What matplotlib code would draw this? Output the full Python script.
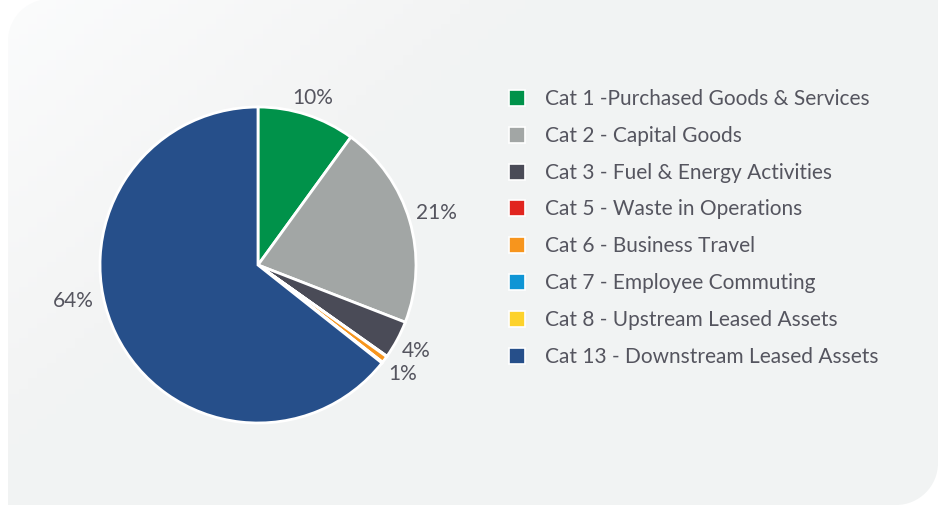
import numpy as np
import matplotlib.pyplot as plt
from matplotlib.path import Path
from matplotlib.patches import PathPatch, Rectangle

categories = [
    "Cat 1 -Purchased Goods & Services",
    "Cat 2 - Capital Goods",
    "Cat 3 - Fuel & Energy Activities",
    "Cat 5 - Waste in Operations",
    "Cat 6 - Business Travel",
    "Cat 7 - Employee Commuting",
    "Cat 8 - Upstream Leased Assets",
    "Cat 13 - Downstream Leased Assets",
]
shares = [10.0, 20.9, 3.9, 0.05, 0.7, 0.05, 0.05, 64.35]
pct_labels = ["10%", "21%", "4%", "", "1%", "", "", "64%"]
colors = ["#00924a", "#a2a6a5", "#4a4b57", "#e1251f", "#f7951d",
          "#0f95d5", "#fdd22b", "#264f8a"]

TEXT = "#55555f"
W, H = 938, 506
plt.rcParams["font.family"] = ["Lato", "DejaVu Sans"]

fig = plt.figure(figsize=(W / 100, H / 100), dpi=100)
fig.patch.set_facecolor("white")

# background panel (pixel coords)
bg = fig.add_axes([0, 0, 1, 1])
bg.set_xlim(0, W)
bg.set_ylim(H, 0)
bg.axis("off")
r, k = 42, 0.5523
verts = [(8, H), (8, r), (8, r - k * r), (8 + r - k * r, 0), (8 + r, 0),
         (W, 0), (W, H - r), (W, H - r + k * r), (W - r + k * r, H), (W - r, H),
         (8, H)]
codes = [Path.MOVETO, Path.LINETO, Path.CURVE4, Path.CURVE4, Path.CURVE4,
         Path.LINETO, Path.LINETO, Path.CURVE4, Path.CURVE4, Path.CURVE4,
         Path.CLOSEPOLY]
panel = PathPatch(Path(verts, codes), facecolor="none", edgecolor="none")
bg.add_patch(panel)
gy, gx = np.mgrid[0:1:100j, 0:1:100j]
g = np.clip((gx * 1.6 + gy) / 0.9, 0, 1)
c0 = np.array([0.985, 0.988, 0.990])
c1 = np.array([0.949, 0.953, 0.953])
img = c0[None, None, :] * (1 - g[..., None]) + c1[None, None, :] * g[..., None]
im = bg.imshow(img, extent=(0, W, H, 0), aspect="auto", zorder=0)
im.set_clip_path(panel)

# pie
cx, cy, rad = 258, 266, 158
side = 3 * rad
ax = fig.add_axes([(cx - side / 2) / W, (H - cy - side / 2) / H, side / W, side / H])
wedges, _ = ax.pie(shares, colors=colors, startangle=90, counterclock=False,
                   radius=1, wedgeprops=dict(edgecolor="white", linewidth=2))
ax.set_xlim(-1.5, 1.5)
ax.set_ylim(-1.5, 1.5)
ax.axis("off")

label_r = {"10%": 1.12, "21%": 1.18, "4%": 1.14, "1%": 1.14, "64%": 1.19}
angle_shift = {"64%": 15}
cum = 0
for s, lab in zip(shares, pct_labels):
    mid = cum + s / 2
    cum += s
    if not lab:
        continue
    a = np.deg2rad(mid / 100 * 360 + angle_shift.get(lab, 0))
    rr = label_r[lab]
    ax.text(rr * np.sin(a), rr * np.cos(a), lab, ha="center", va="center",
            fontsize=15, color=TEXT)

# legend
for i, (lab, col) in enumerate(zip(categories, colors)):
    y = 99 + i * 36.8
    bg.add_patch(Rectangle((509, y - 8), 16, 16, facecolor=col,
                           edgecolor="white", linewidth=1.2, zorder=3))
    bg.text(545, y, lab, ha="left", va="center", fontsize=15, color=TEXT, zorder=3)

fig.savefig("out.png", dpi=100)
